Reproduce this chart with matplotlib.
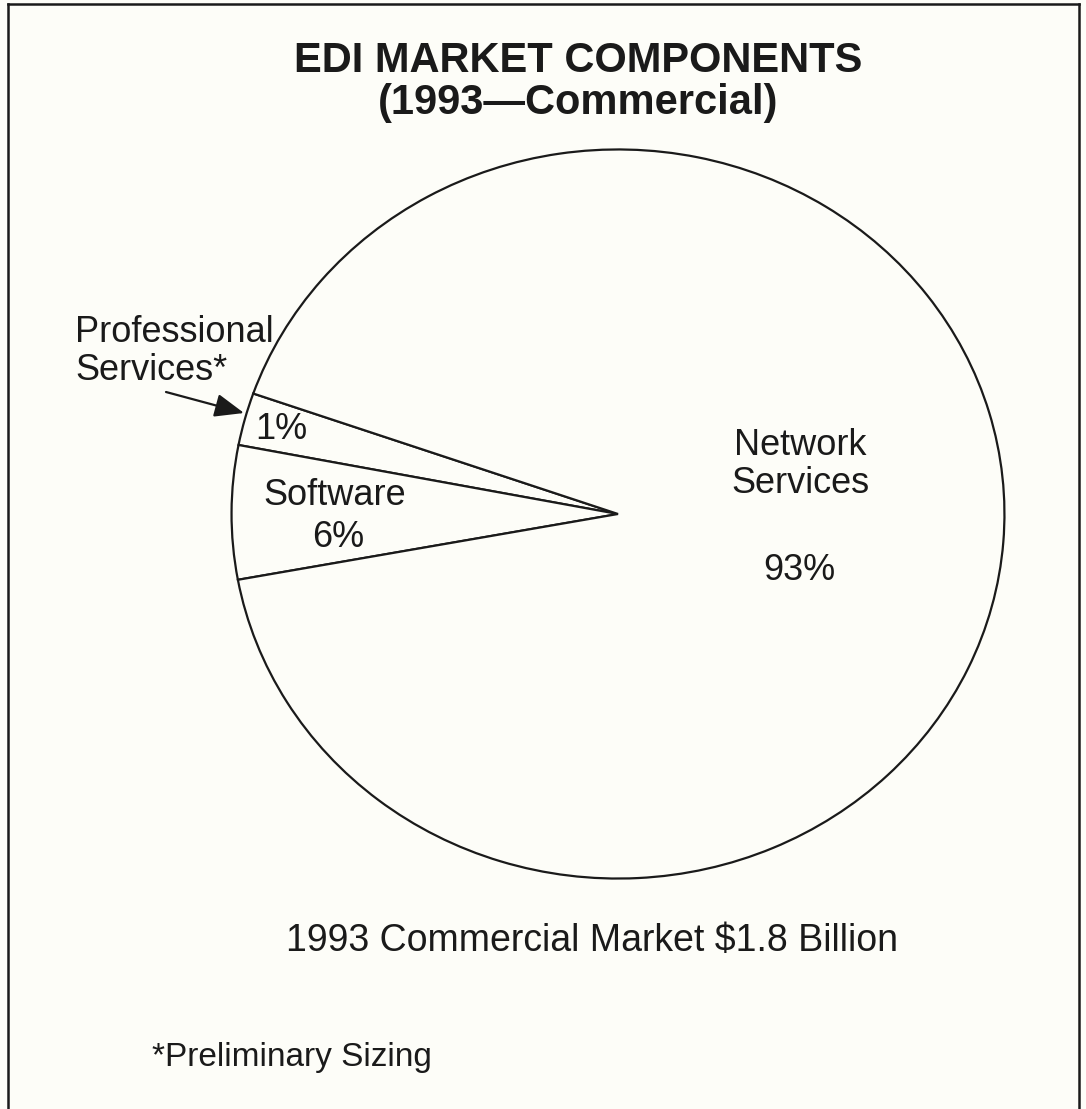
import matplotlib
matplotlib.use("Agg")
import matplotlib.pyplot as plt
from matplotlib.lines import Line2D

# ---- data ----
categories = ["Professional Services*", "Software", "Network Services"]
# slice shares as drawn in the picture (counter-clockwise from the upper edge of the 1% slice)
shares = [2.33, 5.92, 91.75]
pct_labels = ["1%", "6%", "93%"]
title_lines = ["EDI MARKET COMPONENTS", "(1993\u2014Commercial)"]
market_note = "1993 Commercial Market $1.8 Billion"
footnote = "*Preliminary Sizing"

BG = "#fdfdf8"
INK = "#1a1a1a"
FONT = "Liberation Sans"

W, H = 1086, 1109
fig = plt.figure(figsize=(W / 100, H / 100), dpi=100, facecolor=BG)

# pie axes: unit circle mapped onto the drawn ellipse
cx, cy, rx, ry = 618, 514, 388, 366
pie_ax = fig.add_axes([(cx - rx) / W, (H - cy - ry) / H, 2 * rx / W, 2 * ry / H])
pie_ax.set_zorder(1)
pie_ax.pie(shares, startangle=160.7, counterclock=True, radius=1.0,
           colors=[BG] * len(shares),
           wedgeprops=dict(edgecolor=INK, linewidth=1.6, joinstyle="miter"))
pie_ax.set_aspect("auto")
pie_ax.set_xlim(-1.004, 1.004)
pie_ax.set_ylim(-1.004, 1.004)
pie_ax.axis("off")

# full-figure pixel axes (y downward) for text and frame, drawn on top
bg = fig.add_axes([0, 0, 1, 1])
bg.set_zorder(2)
bg.patch.set_visible(False)
bg.set_xlim(0, W)
bg.set_ylim(H, 0)
bg.axis("off")

# frame lines
for xs, ys in [((8, 8), (4, H)), ((8, 1079), (4, 4)), ((1079, 1079), (4, H))]:
    bg.add_line(Line2D(xs, ys, color=INK, lw=1.8))

# titles
bg.text(578, 72, title_lines[0], fontsize=30, fontweight="bold", family=FONT,
        ha="center", va="baseline", color=INK)
bg.text(578, 114, title_lines[1], fontsize=30, fontweight="bold", family=FONT,
        ha="center", va="baseline", color=INK)

# slice labels
bg.text(75, 342, "Professional", fontsize=26, family=FONT, ha="left", va="baseline", color=INK)
bg.text(75, 380, "Services*", fontsize=26, family=FONT, ha="left", va="baseline", color=INK)
bg.text(255, 439, pct_labels[0], fontsize=26, family=FONT, ha="left", va="baseline", color=INK)
bg.text(335, 505, "Software", fontsize=26, family=FONT, ha="center", va="baseline", color=INK)
bg.text(338, 547, pct_labels[1], fontsize=26, family=FONT, ha="center", va="baseline", color=INK)
bg.text(800, 455, "Network", fontsize=26, family=FONT, ha="center", va="baseline", color=INK)
bg.text(800, 493, "Services", fontsize=26, family=FONT, ha="center", va="baseline", color=INK)
bg.text(799, 580, pct_labels[2], fontsize=26, family=FONT, ha="center", va="baseline", color=INK)

# arrow to the 1% slice
bg.annotate("", xy=(244, 413), xytext=(166, 392),
            arrowprops=dict(arrowstyle="-|>,head_length=0.4,head_width=0.16",
                            mutation_scale=45, lw=1.6, color=INK,
                            shrinkA=0, shrinkB=0))

# notes
bg.text(592, 951, market_note, fontsize=27, family=FONT, ha="center", va="baseline", color=INK)
bg.text(152, 1066, footnote, fontsize=24, family=FONT, ha="left", va="baseline", color=INK)

fig.savefig("out.png", dpi=100, facecolor=BG)
